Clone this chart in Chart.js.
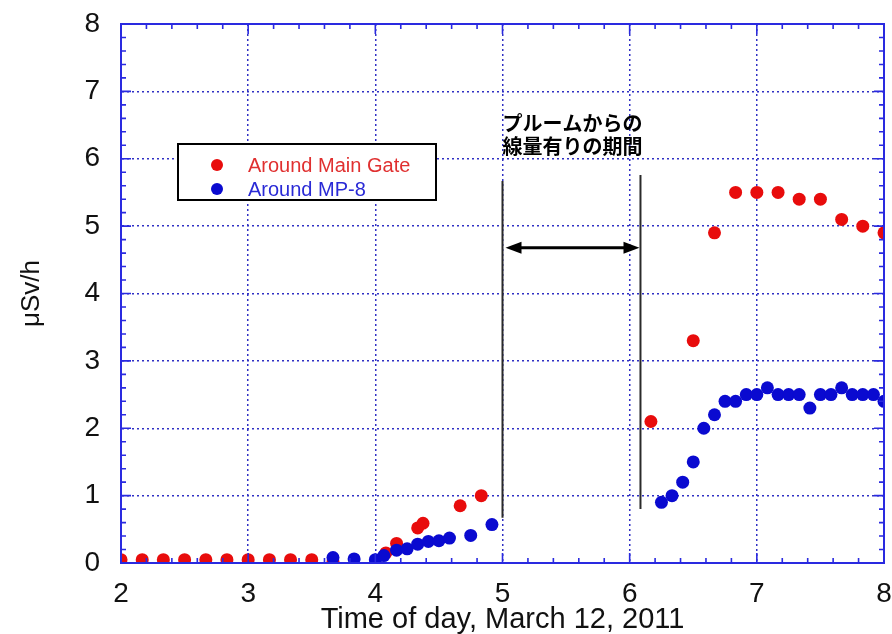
<!DOCTYPE html>
<html>
<head>
<meta charset="utf-8">
<script src="https://cdn.jsdelivr.net/npm/chart.js@4.4.1/dist/chart.umd.min.js"></script>
<style>
  html, body { margin: 0; padding: 0; background: #ffffff; }
  #wrap { width: 892px; height: 634px; position: relative; }
</style>
</head>
<body>
<div id="wrap"><canvas id="c" width="892" height="634"></canvas></div>
<script>
// Air dose rate (μSv/h), March 12, 2011, time of day in hours
const seriesNames = ['Around Main Gate', 'Around MP-8'];

const gateTime = [2.0, 2.167, 2.333, 2.5, 2.667, 2.833, 3.0, 3.167, 3.333, 3.5, 3.667,
                  4.083, 4.167, 4.333, 4.375, 4.667, 4.833,
                  6.167, 6.5, 6.667, 6.833, 7.0, 7.167, 7.333, 7.5, 7.667, 7.833, 8.0];
const gateDose = [0.05, 0.05, 0.05, 0.05, 0.05, 0.05, 0.05, 0.05, 0.05, 0.05, 0.02,
                  0.15, 0.29, 0.52, 0.59, 0.85, 1.0,
                  2.1, 3.3, 4.9, 5.5, 5.5, 5.5, 5.4, 5.4, 5.1, 5.0, 4.9];

const mp8Time = [3.667, 3.833, 4.0, 4.067, 4.167, 4.25, 4.333, 4.417, 4.5, 4.583, 4.75, 4.917,
                 6.25, 6.333, 6.417, 6.5, 6.583, 6.667, 6.75, 6.833, 6.917, 7.0, 7.083,
                 7.167, 7.25, 7.333, 7.417, 7.5, 7.583, 7.667, 7.75, 7.833, 7.917, 8.0];
const mp8Dose = [0.08, 0.06, 0.05, 0.11, 0.19, 0.21, 0.28, 0.32, 0.33, 0.37, 0.41, 0.57,
                 0.9, 1.0, 1.2, 1.5, 2.0, 2.2, 2.4, 2.4, 2.5, 2.5, 2.6,
                 2.5, 2.5, 2.5, 2.3, 2.5, 2.5, 2.6, 2.5, 2.5, 2.5, 2.4];

// Plume passage window: two marker lines and a double arrow between them
const plumeStart = 5.0;
const plumeEnd = 6.085;
const plumeLineTop = [5.67, 5.76];
const plumeLineBottom = [0.67, 0.8];
const plumeArrowLevel = 4.68;
const plumeNote = ['プルームからの', '線量有りの期間'];
const plumeNoteLevels = [6.53, 6.19];

const xTicks = [2, 3, 4, 5, 6, 7, 8];
const yTicks = [0, 1, 2, 3, 4, 5, 6, 7, 8];

const RED = '#e80c0c';
const BLUE = '#0a0ad0';
const AXIS_BLUE = '#2a2ae0';
const GRID_BLUE = '#3030c4';

const toPoints = (xs, ys) => xs.map((x, i) => ({ x: x, y: ys[i] }));

// Box frame with inward major/minor ticks on all four sides
const frameTicks = {
  id: 'frameTicks',
  afterDraw(chart) {
    const { ctx, chartArea: a, scales } = chart;
    const xs = scales.x, ys = scales.y;
    ctx.save();
    ctx.strokeStyle = AXIS_BLUE;
    ctx.lineWidth = 2;
    ctx.strokeRect(a.left, a.top, a.right - a.left, a.bottom - a.top);
    ctx.lineWidth = 1.6;
    ctx.beginPath();
    for (let k = 0; k <= 30; k++) {
      const v = 2 + k * 0.2;
      const px = xs.getPixelForValue(v);
      const len = (k % 5 === 0) ? 10 : 5;
      ctx.moveTo(px, a.bottom); ctx.lineTo(px, a.bottom - len);
      ctx.moveTo(px, a.top); ctx.lineTo(px, a.top + len);
    }
    for (let k = 0; k <= 40; k++) {
      const v = k * 0.2;
      const py = ys.getPixelForValue(v);
      const len = (k % 5 === 0) ? 10 : 5;
      ctx.moveTo(a.left, py); ctx.lineTo(a.left + len, py);
      ctx.moveTo(a.right, py); ctx.lineTo(a.right - len, py);
    }
    ctx.stroke();
    ctx.restore();
  }
};

// Plume window annotation, legend box
const notes = {
  id: 'notes',
  afterDatasetsDraw(chart) {
    const { ctx, scales } = chart;
    const xs = scales.x, ys = scales.y;
    ctx.save();
    // vertical marker lines
    ctx.strokeStyle = '#2a2a2a';
    ctx.lineWidth = 2;
    [plumeStart, plumeEnd].forEach((t, i) => {
      const px = xs.getPixelForValue(t);
      ctx.beginPath();
      ctx.moveTo(px, ys.getPixelForValue(plumeLineTop[i]));
      ctx.lineTo(px, ys.getPixelForValue(plumeLineBottom[i]));
      ctx.stroke();
    });
    // double arrow
    const x1 = xs.getPixelForValue(plumeStart) + 3;
    const x2 = xs.getPixelForValue(plumeEnd) - 1;
    const ay = ys.getPixelForValue(plumeArrowLevel);
    const head = 16, hw = 6;
    ctx.strokeStyle = '#000';
    ctx.lineWidth = 3;
    ctx.beginPath();
    ctx.moveTo(x1 + head - 2, ay); ctx.lineTo(x2 - head + 2, ay);
    ctx.stroke();
    ctx.fillStyle = '#000';
    ctx.beginPath();
    ctx.moveTo(x1, ay); ctx.lineTo(x1 + head, ay - hw); ctx.lineTo(x1 + head, ay + hw); ctx.closePath();
    ctx.fill();
    ctx.beginPath();
    ctx.moveTo(x2, ay); ctx.lineTo(x2 - head, ay - hw); ctx.lineTo(x2 - head, ay + hw); ctx.closePath();
    ctx.fill();
    // note text
    const cx = (xs.getPixelForValue(plumeStart) + xs.getPixelForValue(plumeEnd)) / 2 + 1;
    ctx.font = 'bold 20px "Noto Sans CJK JP", sans-serif';
    ctx.textAlign = 'center';
    ctx.textBaseline = 'middle';
    ctx.fillStyle = '#000';
    plumeNote.forEach((s, i) => ctx.fillText(s, cx, ys.getPixelForValue(plumeNoteLevels[i])));

    // legend box
    const L = 178, T = 144, W = 258, H = 56;
    ctx.fillStyle = '#ffffff';
    ctx.fillRect(L, T, W, H);
    ctx.strokeStyle = '#000';
    ctx.lineWidth = 2;
    ctx.strokeRect(L, T, W, H);
    const colors = [RED, BLUE];
    const textColors = ['#e03030', '#2a2ad6'];
    ctx.font = '20px "Liberation Sans", Arial, sans-serif';
    ctx.textAlign = 'left';
    seriesNames.forEach((name, i) => {
      const ry = T + 21 + i * 24;
      ctx.fillStyle = colors[i];
      ctx.beginPath();
      ctx.arc(L + 39, ry, 6, 0, Math.PI * 2);
      ctx.fill();
      ctx.fillStyle = textColors[i];
      ctx.fillText(name, L + 70, ry + 1);
    });
    ctx.restore();
  }
};

new Chart(document.getElementById('c'), {
  type: 'scatter',
  data: {
    datasets: [
      {
        label: seriesNames[1],
        data: toPoints(mp8Time, mp8Dose),
        backgroundColor: BLUE,
        borderWidth: 0,
        pointRadius: 6.5,
        order: 0
      },
      {
        label: seriesNames[0],
        data: toPoints(gateTime, gateDose),
        backgroundColor: RED,
        borderWidth: 0,
        pointRadius: 6.5,
        order: 1
      }
    ]
  },
  options: {
    responsive: false,
    animation: false,
    layout: { padding: { top: 24, right: 8, left: 0, bottom: 0 } },
    plugins: { legend: { display: false }, tooltip: { enabled: false } },
    scales: {
      x: {
        type: 'linear',
        min: 2, max: 8,
        afterFit(s) { s.height = 71; s.paddingLeft = 0; s.paddingRight = 0; },
        afterBuildTicks(s) { s.ticks = xTicks.map(v => ({ value: v })); },
        ticks: { padding: 14, color: '#111', font: { family: '"Liberation Sans", Arial', size: 28 } },
        grid: { color: GRID_BLUE, lineWidth: 1.5, drawTicks: false },
        border: { display: true, color: AXIS_BLUE, width: 2, dash: [2, 3] },
        title: {
          display: true,
          text: 'Time of day, March 12, 2011',
          color: '#111',
          padding: { top: 0, bottom: 0 },
          font: { family: '"Liberation Sans", Arial', size: 29, lineHeight: 1 }
        }
      },
      y: {
        type: 'linear',
        min: 0, max: 8,
        afterFit(s) { s.width = 121; s.paddingTop = 0; s.paddingBottom = 0; },
        afterBuildTicks(s) { s.ticks = yTicks.map(v => ({ value: v })); },
        ticks: { padding: 21, color: '#111', font: { family: '"Liberation Sans", Arial', size: 28 } },
        grid: { color: GRID_BLUE, lineWidth: 1.5, drawTicks: false },
        border: { display: true, color: AXIS_BLUE, width: 2, dash: [2, 3] },
        title: {
          display: true,
          text: 'μSv/h',
          color: '#111',
          padding: { top: 16, bottom: 0 },
          font: { family: '"Liberation Sans", Arial', size: 26, lineHeight: 1.2 }
        }
      }
    }
  },
  plugins: [notes, frameTicks]
});
</script>
</body>
</html>
